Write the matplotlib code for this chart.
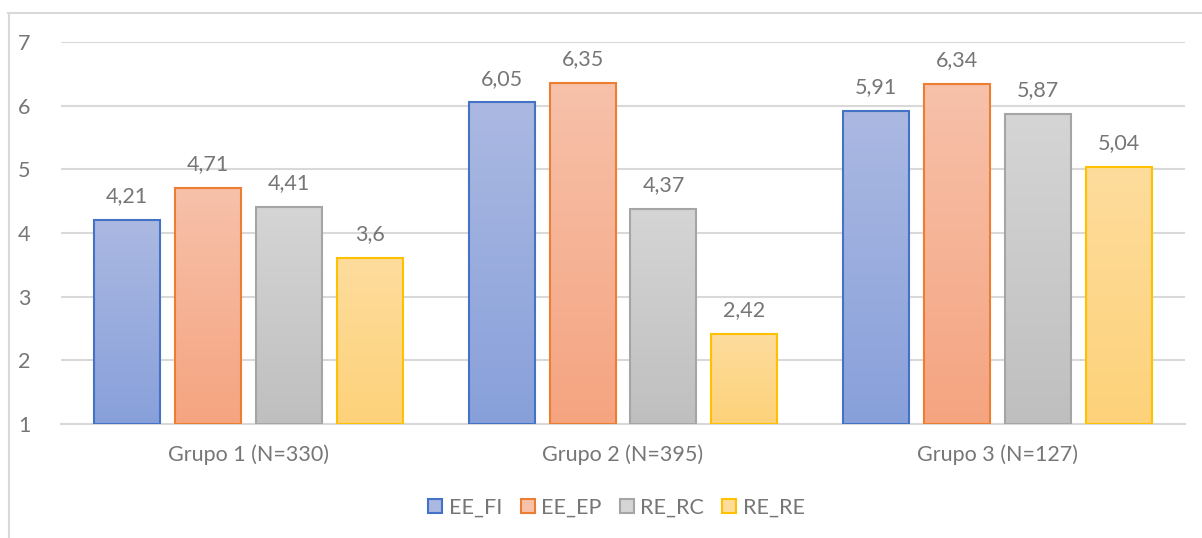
"""Bar chart of the four scale means per group, Excel-style gradient bars."""

import matplotlib.pyplot as plt
import numpy as np
from matplotlib.colors import LinearSegmentedColormap
from matplotlib.lines import Line2D
from matplotlib.patches import Rectangle

plt.rcParams["font.family"] = ["Lato", "DejaVu Sans"]

groups = ["Grupo 1 (N=330)", "Grupo 2 (N=395)", "Grupo 3 (N=127)"]
series = ["EE_FI", "EE_EP", "RE_RC", "RE_RE"]
ee_fi = [4.21, 6.05, 5.91]
ee_ep = [4.71, 6.35, 6.34]
re_rc = [4.41, 4.37, 5.87]
re_re = [3.6, 2.42, 5.04]
values = [ee_fi, ee_ep, re_rc, re_re]

# edge colour, gradient top, gradient bottom
styles = [
    ("#4472c4", "#abb9e2", "#88a0da"),
    ("#ed7d31", "#f7c1aa", "#f5a480"),
    ("#a5a5a5", "#d5d5d5", "#bfbfbf"),
    ("#ffc000", "#fedc9c", "#fdd27a"),
]

TEXT = "#767676"
GRID = "#d9d9d9"
BASE = 1.0
FS = 15.5

fig = plt.figure(figsize=(12.02, 5.38), dpi=100)
ax = fig.add_axes([61 / 1202, 114 / 538, 1124 / 1202, 382 / 538])

pitch = 0.216
width = 0.176
x = np.arange(len(groups))

for i, (vals, (edge, top, bottom)) in enumerate(zip(values, styles)):
    cmap = LinearSegmentedColormap.from_list(series[i], [bottom, top])
    grad = np.linspace(0, 1, 256).reshape(-1, 1)
    offs = (i - 1.5) * pitch
    for xi, v in zip(x, vals):
        left = xi + offs - width / 2
        bar = Rectangle((left, BASE), width, v - BASE, facecolor="none",
                        edgecolor=edge, linewidth=1.5, zorder=3)
        ax.add_patch(bar)
        img = ax.imshow(grad, cmap=cmap, origin="lower", aspect="auto",
                        extent=(left, left + width, BASE, v), zorder=2)
        img.set_clip_path(bar)
        ax.annotate(f"{v:g}".replace(".", ","), (xi + offs, v),
                    xytext=(0, 10), textcoords="offset points",
                    ha="center", va="bottom", fontsize=FS, color=TEXT)

ax.set_xlim(-0.5, len(groups) - 0.5)
ax.set_ylim(1, 7)
ax.set_yticks(range(1, 8))
ax.set_xticks(x)
ax.set_xticklabels(groups)
ax.yaxis.grid(True, color=GRID, linewidth=1.5, zorder=0)
ax.set_axisbelow(True)
for side in ("left", "right", "top"):
    ax.spines[side].set_visible(False)
ax.spines["bottom"].set_color(GRID)
ax.spines["bottom"].set_linewidth(1.5)
ax.tick_params(axis="y", length=0, pad=22, labelsize=FS, labelcolor=TEXT)
ax.tick_params(axis="x", length=0, pad=15, labelsize=FS, labelcolor=TEXT)

handles = [
    Rectangle((0, 0), 1, 1, facecolor=top, edgecolor=edge, linewidth=1.5)
    for edge, top, _ in styles
]
fig.legend(handles, series, loc="center", bbox_to_anchor=(0.513, 0.056),
           ncol=4, frameon=False, fontsize=FS, labelcolor=TEXT,
           handlelength=0.65, handleheight=0.65, handletextpad=0.3,
           columnspacing=0.85)

# outer chart frame (top and left edges)
fig.add_artist(Line2D([8 / 1202, 1], [1 - 13 / 538, 1 - 13 / 538],
                      color=GRID, linewidth=1.5))
fig.add_artist(Line2D([8.5 / 1202, 8.5 / 1202], [0, 1 - 13 / 538],
                      color=GRID, linewidth=1.5))

fig.savefig("out.png", dpi=100)
